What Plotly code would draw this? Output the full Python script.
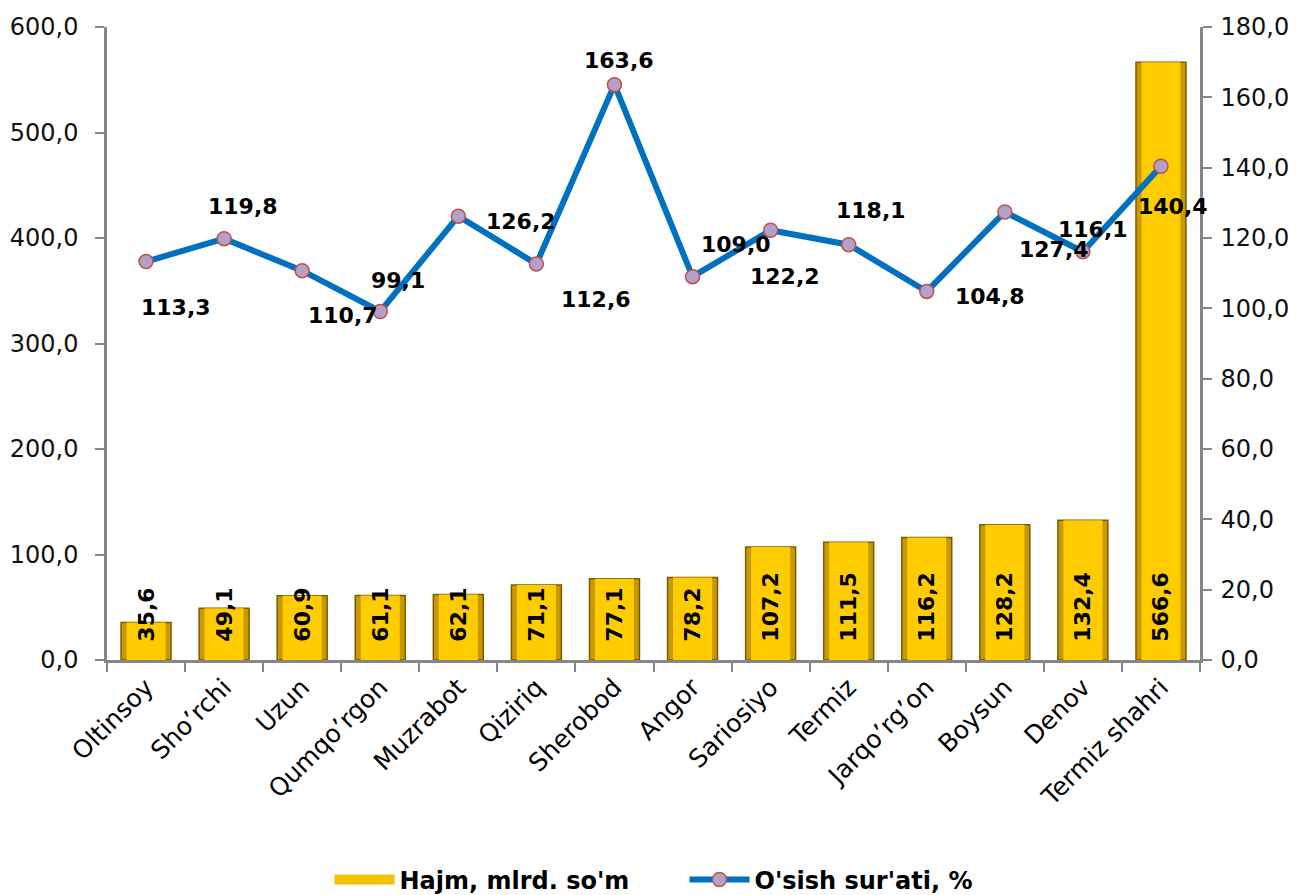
import plotly.graph_objects as go

categories = ["Oltinsoy", "Sho’rchi", "Uzun", "Qumqo’rgon", "Muzrabot", "Qiziriq",
              "Sherobod", "Angor", "Sariosiyo", "Termiz", "Jarqo’rg’on", "Boysun",
              "Denov", "Termiz shahri"]
volume = [35.6, 49.1, 60.9, 61.1, 62.1, 71.1, 77.1, 78.2, 107.2, 111.5, 116.2, 128.2, 132.4, 566.6]
growth = [113.3, 119.8, 110.7, 99.1, 126.2, 112.6, 163.6, 109.0, 122.2, 118.1, 104.8, 127.4, 116.1, 140.4]
left_ticks = [0, 100, 200, 300, 400, 500, 600]
right_ticks = [0, 20, 40, 60, 80, 100, 120, 140, 160, 180]

# label offsets (pixels) for growth labels, as placed in the original
label_offsets = [(30, -46), (19, 32), (41, -45), (18, 31), (63, -5), (60, -35), (5, 24),
                 (43, 32), (14, -46), (22, 34), (63, -5), (49, -38), (10, 22), (12, -40)]

def fmt(v):
    return f"{v:.1f}".replace(".", ",")

FONT = "DejaVu Sans, Liberation Sans, Arial, sans-serif"
NB = "\u00a0"

fig = go.Figure()

# base (edge) bar
fig.add_trace(go.Bar(
    x=categories, y=volume, name="Hajm, mlrd. so'm",
    width=0.64, marker=dict(color="#C99A00", line=dict(color="#7A5C00", width=1.5)),
    hoverinfo="skip", showlegend=False, yaxis="y",
))
# inner highlight bar with labels
fig.add_trace(go.Bar(
    x=categories, y=volume, name="Hajm, mlrd. so'm",
    width=0.5, marker=dict(color="#FFCC00", line=dict(width=0)),
    text=[NB * 2 + fmt(v) for v in volume], textposition="inside", insidetextanchor="start",
    textangle=-90, constraintext="none",
    textfont=dict(family=FONT, size=22, color="#000000", weight="bold"),
    showlegend=False, yaxis="y",
))
# legend entry for the bars (wide gold swatch)
fig.add_trace(go.Scatter(
    x=[categories[0]], y=[None], name="Hajm, mlrd. so'm" + NB * 6, mode="lines",
    line=dict(color="#F2C200", width=13), yaxis="y", hoverinfo="skip",
))

fig.add_trace(go.Scatter(
    x=categories, y=growth, name="O'sish sur'ati, %", yaxis="y2",
    mode="lines+markers",
    line=dict(color="#0070C0", width=6),
    marker=dict(symbol="circle", size=14, color="#B3A2C7", line=dict(color="#C0504D", width=1.5)),
))

for c, v, (dx, dy) in zip(categories, growth, label_offsets):
    fig.add_annotation(x=c, y=v, yref="y2", xref="x", text=f"<b>{fmt(v)}</b>",
                       showarrow=False, xshift=dx, yshift=dy,
                       font=dict(family=FONT, size=22, color="#000000"))

axis_line = dict(showline=True, linecolor="#868686", linewidth=2.5)

fig.update_layout(
    width=1292, height=887,
    margin=dict(l=99, r=100, t=19, b=235),
    paper_bgcolor="white", plot_bgcolor="white",
    barmode="overlay",
    font=dict(family=FONT, size=24, color="#111111"),
    xaxis=dict(**axis_line, tickangle=-45, tickson="boundaries", ticks="outside",
               ticklen=9, tickwidth=2, tickcolor="#868686",
               tickfont=dict(size=25, family=FONT, color="#000000"),
               showgrid=False, range=[-0.5, len(categories) - 0.5]),
    yaxis=dict(**axis_line, range=[0, 600], tickvals=left_ticks,
               ticktext=[fmt(t) for t in left_ticks], ticks="outside", ticklen=9,
               tickwidth=2, tickcolor="#868686", showgrid=False, zeroline=False,
               automargin=False, ticklabelstandoff=12,
               tickfont=dict(size=24, family=FONT, color="#111111")),
    yaxis2=dict(**axis_line, range=[0, 180], tickvals=right_ticks,
                ticktext=[fmt(t) for t in right_ticks], ticks="outside", ticklen=9,
                tickwidth=2, tickcolor="#868686", showgrid=False, zeroline=False,
                overlaying="y", side="right", automargin=False, ticklabelstandoff=4,
                tickfont=dict(size=24, family=FONT, color="#111111")),
    legend=dict(orientation="h", x=0.5, xanchor="center", yref="container",
                y=0.017, yanchor="middle",
                font=dict(size=24, family=FONT, color="#000000", weight="bold"),
                itemwidth=60, tracegroupgap=0),
)

fig.write_html("out.html")
